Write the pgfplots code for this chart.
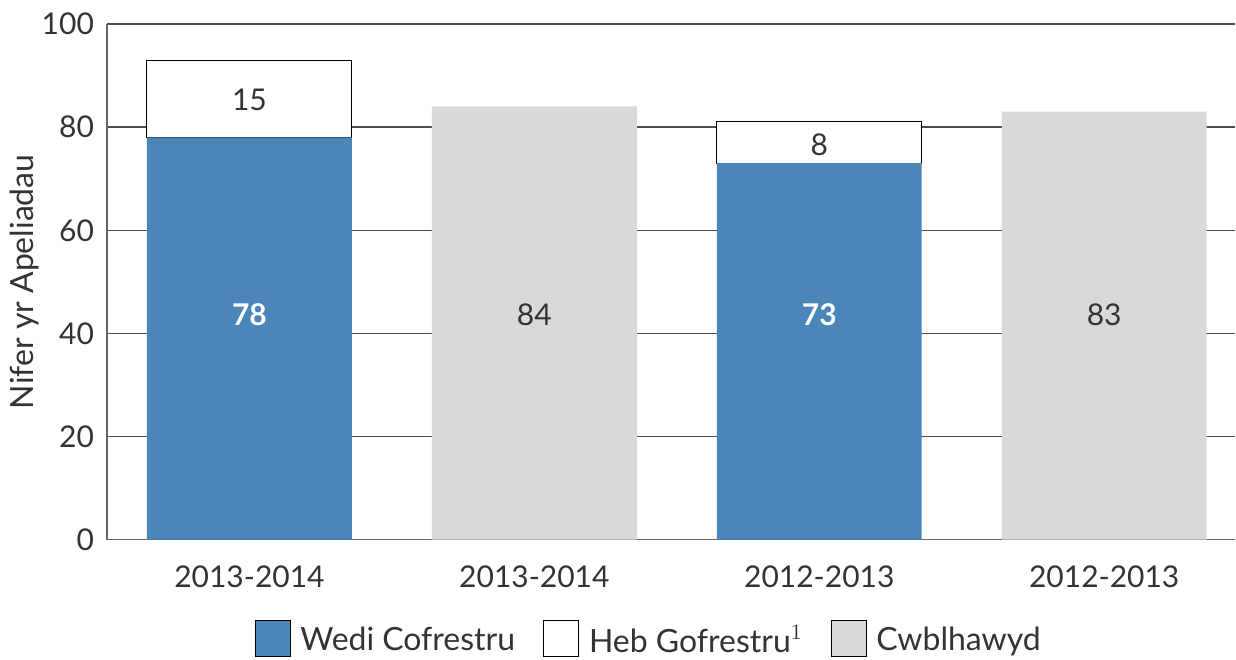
\documentclass[border=0pt]{standalone}
\usepackage{pgfplots}
\pgfplotsset{compat=1.18}
\usepackage{fontspec}
\setmainfont{Lato}
\definecolor{wedi}{HTML}{4A86B8}
\definecolor{cwbl}{HTML}{D9D9D9}
\definecolor{txt}{HTML}{333333}
\newcommand{\fs}{\fontsize{16}{18}\selectfont}
\newcommand{\fv}{\fontsize{15}{17}\selectfont}

\begin{document}
\begin{tikzpicture}
\begin{axis}[
    ybar stacked, bar width=102.5pt,
    width=564.5pt, height=258pt, scale only axis,
    xmin=-0.5, xmax=3.46, ymin=0, ymax=100,
    xtick={0,1,2,3},
    xticklabels={2013-2014,2013-2014,2012-2013,2012-2013},
    ytick={0,20,...,100},
    major tick length=0pt,
    axis x line*=bottom, axis y line*=left,
    axis line style={draw=gray!80!black, line width=0.7pt, -},
    ymajorgrids, grid style={draw=black!70, line width=0.7pt},
    /pgf/number format/assume math mode=true,
    ticklabel style={font=\fv, text=txt},
    xticklabel style={yshift=-9.5pt},
    yticklabel style={xshift=-3pt},
    ylabel={Nifer yr Apeliadau},
    ylabel style={font=\fs, text=txt, at={(axis description cs:-0.073,0.5)}, anchor=center},
    legend columns=3,
    legend style={at={(rel axis cs:0.481,0)}, anchor=north, yshift=-40pt, draw=none, inner sep=0pt,
        font=\fs, text=txt,
        /tikz/every odd column/.append style={column sep=3pt},
        /tikz/every even column/.append style={column sep=12pt}},
    legend image code/.code={\draw[#1] (0pt,-8pt) rectangle (17.5pt,10pt);},
]
\addplot[fill=wedi, draw=none] coordinates {(0,78) (1,0) (2,73) (3,0)};
\addlegendentry{Wedi Cofrestru}
\addplot[fill=white, draw=black, line width=0.5pt] coordinates {(0,15) (1,0) (2,8) (3,0)};
\addlegendentry{Heb Gofrestru$^{1}$}
\addplot[fill=cwbl, draw=none] coordinates {(0,0) (1,84) (2,0) (3,83)};
\addlegendentry{Cwblhawyd}

\coordinate (l1) at (axis cs:0,43.7);
\coordinate (l2) at (axis cs:1,43.7);
\coordinate (l3) at (axis cs:2,43.7);
\coordinate (l4) at (axis cs:3,43.7);
\coordinate (l5) at (axis cs:0,85.3);
\coordinate (l6) at (axis cs:2,76.6);
\coordinate (tl) at (axis description cs:-0.0948,1);
\end{axis}
\path ([yshift=12pt]tl);
\node[text=white, font=\fv\bfseries] at (l1) {78};
\node[text=txt, font=\fv] at (l2) {84};
\node[text=white, font=\fv\bfseries] at (l3) {73};
\node[text=txt, font=\fv] at (l4) {83};
\node[text=txt, font=\fv] at (l5) {15};
\node[text=txt, font=\fv] at (l6) {8};
\end{tikzpicture}
\end{document}
